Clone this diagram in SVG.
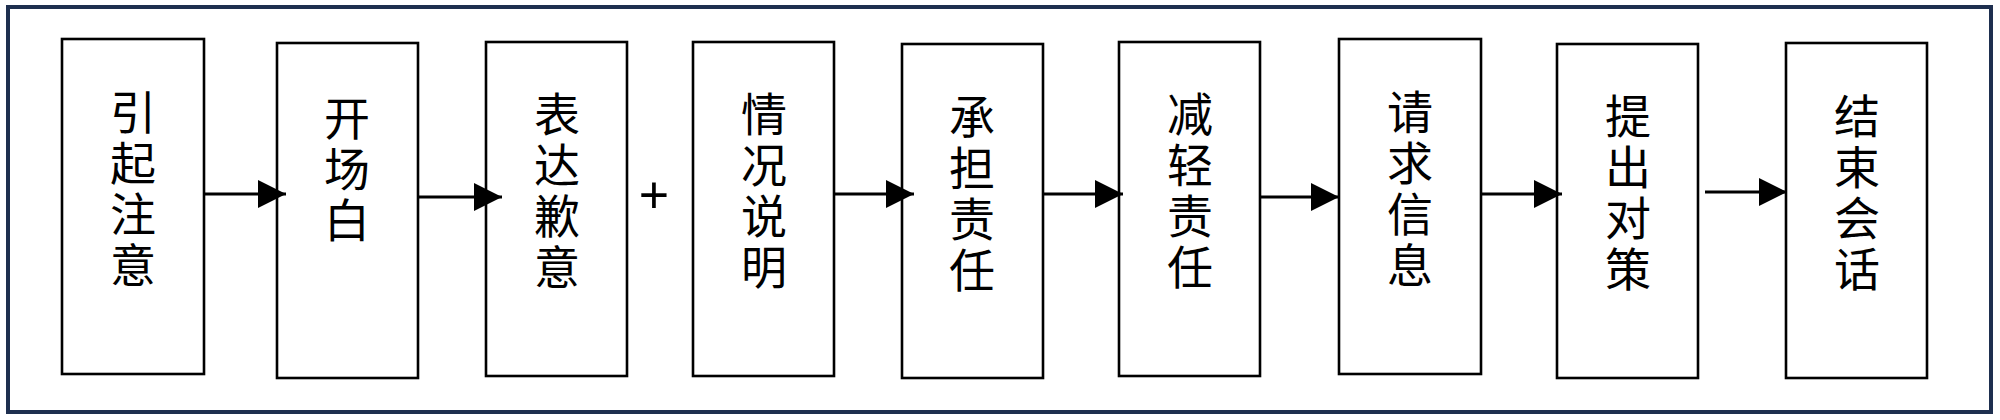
<svg xmlns="http://www.w3.org/2000/svg" width="2000" height="420" viewBox="0 0 2000 420">
<style>
.frame{fill:#ffffff;stroke:#1e2f4f;stroke-width:4}
.box{fill:#ffffff;stroke:#000000;stroke-width:2.6}
.lbl{font-family:"Noto Sans CJK SC","Noto Sans CJK TC",sans-serif;font-size:46px;fill:#000000;text-anchor:middle}
.conn{stroke:#000000;stroke-width:3;fill:none;marker-end:url(#ah)}
.plus{font-family:"Liberation Sans",Arial,sans-serif;font-size:52px;fill:#000000;text-anchor:middle}
</style>
<defs>
<marker id="ah" viewBox="0 0 28 28" refX="28" refY="14" markerWidth="28" markerHeight="28" markerUnits="userSpaceOnUse" orient="auto">
<path d="M0,0 L28,14 L0,28 Z" fill="#000000"/>
</marker>
</defs>
<rect width="2000" height="420" fill="#ffffff"/>
<rect class="frame" x="8" y="7" width="1983" height="405"/>
<g id="n1"><rect class="box" x="62" y="39" width="142" height="335"/>
<text class="lbl" x="133" y="129">引</text><text class="lbl" x="133" y="180">起</text><text class="lbl" x="133" y="231">注</text><text class="lbl" x="133" y="282">意</text></g>
<g id="n2"><rect class="box" x="277" y="43" width="141" height="335"/>
<text class="lbl" x="347" y="135">开</text><text class="lbl" x="347" y="186">场</text><text class="lbl" x="347" y="237">白</text></g>
<g id="n3"><rect class="box" x="486" y="42" width="141" height="334"/>
<text class="lbl" x="557" y="131">表</text><text class="lbl" x="557" y="182">达</text><text class="lbl" x="557" y="233">歉</text><text class="lbl" x="557" y="284">意</text></g>
<g id="plus"><text class="plus" x="654" y="213">+</text></g>
<g id="n4"><rect class="box" x="693" y="42" width="141" height="334"/>
<text class="lbl" x="764" y="131">情</text><text class="lbl" x="764" y="182">况</text><text class="lbl" x="764" y="233">说</text><text class="lbl" x="764" y="284">明</text></g>
<g id="n5"><rect class="box" x="902" y="44" width="141" height="334"/>
<text class="lbl" x="972" y="134">承</text><text class="lbl" x="972" y="185">担</text><text class="lbl" x="972" y="236">责</text><text class="lbl" x="972" y="287">任</text></g>
<g id="n6"><rect class="box" x="1119" y="42" width="141" height="334"/>
<text class="lbl" x="1190" y="131">减</text><text class="lbl" x="1190" y="182">轻</text><text class="lbl" x="1190" y="233">责</text><text class="lbl" x="1190" y="284">任</text></g>
<g id="n7"><rect class="box" x="1339" y="39" width="142" height="335"/>
<text class="lbl" x="1410" y="129">请</text><text class="lbl" x="1410" y="180">求</text><text class="lbl" x="1410" y="231">信</text><text class="lbl" x="1410" y="282">息</text></g>
<g id="n8"><rect class="box" x="1557" y="44" width="141" height="334"/>
<text class="lbl" x="1628" y="133">提</text><text class="lbl" x="1628" y="184">出</text><text class="lbl" x="1628" y="235">对</text><text class="lbl" x="1628" y="286">策</text></g>
<g id="n9"><rect class="box" x="1786" y="43" width="141" height="335"/>
<text class="lbl" x="1857" y="133">结</text><text class="lbl" x="1857" y="184">束</text><text class="lbl" x="1857" y="235">会</text><text class="lbl" x="1857" y="286">话</text></g>
<g id="connectors">
<line class="conn" x1="204" y1="194" x2="286" y2="194"/>
<line class="conn" x1="418" y1="197" x2="502" y2="197"/>
<line class="conn" x1="834" y1="194" x2="914" y2="194"/>
<line class="conn" x1="1043" y1="194" x2="1123" y2="194"/>
<line class="conn" x1="1260" y1="197" x2="1339" y2="197"/>
<line class="conn" x1="1481" y1="194" x2="1562" y2="194"/>
<line class="conn" x1="1705" y1="192" x2="1787" y2="192"/>
</g>
</svg>
